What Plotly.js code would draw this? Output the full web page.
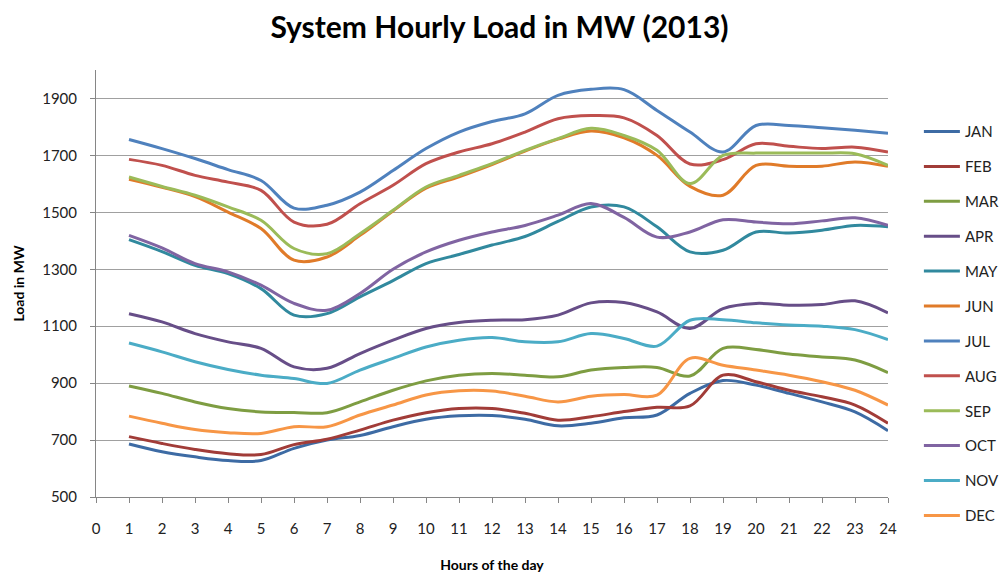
<!DOCTYPE html>
<html>
<head>
<meta charset="utf-8">
<script src="https://cdn.plot.ly/plotly-3.0.1.min.js"></script>
<style>html,body{margin:0;padding:0;background:#fff;}#chart{width:1005px;height:576px;}</style>
</head>
<body>
<div id="chart"></div>
<script>
const hours = [1,2,3,4,5,6,7,8,9,10,11,12,13,14,15,16,17,18,19,20,21,22,23,24];
const months = ["JAN","FEB","MAR","APR","MAY","JUN","JUL","AUG","SEP","OCT","NOV","DEC"];
const JAN = [686,659,641,628,628,671,700,716,747,773,785,786,773,750,759,778,788,864,909,893,864,834,799,733];
const FEB = [712,688,667,652,649,684,703,735,770,796,811,811,794,770,782,800,815,820,928,905,875,852,823,759];
const MAR = [890,864,834,811,799,797,796,834,875,908,928,934,928,922,946,955,955,925,1022,1018,1002,992,981,937];
const APR = [1144,1115,1074,1045,1022,957,952,1004,1051,1092,1113,1121,1123,1139,1182,1183,1150,1092,1162,1180,1174,1176,1189,1147];
const MAY = [1404,1362,1314,1285,1232,1139,1144,1203,1260,1320,1352,1385,1415,1468,1519,1519,1449,1361,1367,1431,1427,1437,1454,1449];
const JUN = [1616,1588,1555,1501,1443,1332,1343,1419,1505,1585,1625,1668,1715,1757,1786,1762,1700,1591,1560,1665,1662,1662,1677,1662];
const JUL = [1756,1724,1689,1650,1612,1515,1525,1571,1647,1724,1782,1819,1846,1911,1932,1931,1858,1782,1712,1805,1805,1797,1788,1778];
const AUG = [1686,1665,1630,1606,1577,1466,1458,1530,1595,1671,1712,1741,1782,1829,1840,1832,1770,1670,1685,1741,1732,1724,1729,1712];
const SEP = [1624,1591,1560,1519,1472,1373,1355,1425,1507,1589,1630,1671,1718,1759,1795,1770,1718,1601,1700,1708,1708,1708,1706,1665];
const OCT = [1419,1375,1320,1291,1244,1180,1156,1215,1300,1361,1402,1431,1454,1490,1531,1482,1413,1431,1474,1466,1460,1470,1481,1454];
const NOV = [1041,1010,975,948,928,916,899,946,987,1027,1051,1060,1045,1045,1074,1057,1030,1121,1123,1112,1104,1100,1088,1053];
const DEC = [784,759,737,726,723,747,747,788,823,858,873,872,854,834,854,860,858,987,963,946,928,905,875,823];
const series = [JAN,FEB,MAR,APR,MAY,JUN,JUL,AUG,SEP,OCT,NOV,DEC];
const colors = ["#3D6BA4","#A13C38","#7E9D42","#674E88","#31899E","#E07B29","#4F81BD","#C0504D","#9BBB59","#8064A2","#4BACC6","#F79646"];

const traces = series.map((ys, i) => ({
  x: hours, y: ys, name: months[i], type: 'scatter', mode: 'lines',
  legendgroup: 'g' + i,
  line: {color: colors[i], width: 3, shape: 'spline', smoothing: 1},
  hoverinfo: 'x+y+name'
}));

const fontFam = 'Lato, "Open Sans", sans-serif';
const layout = {
  width: 1005, height: 576,
  margin: {l: 96, r: 117, t: 70, b: 79, autoexpand: false},
  paper_bgcolor: '#fff', plot_bgcolor: '#fff',
  font: {family: fontFam, color: '#222', size: 15},
  title: {text: '<b>System Hourly Load in MW (2013)</b>', font: {family: fontFam, size: 30, color: '#000'}, x: 0.497, xanchor: 'center', y: 0.952, yanchor: 'middle'},
  xaxis: {
    range: [0, 24], tickmode: 'linear', tick0: 0, dtick: 1,
    showgrid: false, zeroline: false,
    showline: true, linecolor: '#868686', linewidth: 1,
    ticks: 'outside', ticklen: 5, tickcolor: '#868686',
    ticklabelstandoff: 13,
    tickfont: {size: 15, color: '#222'},
    title: {text: '<b>Hours of the day</b>', font: {size: 14, color: '#000'}, standoff: 24}
  },
  yaxis: {
    range: [500, 2000], tickmode: 'linear', tick0: 500, dtick: 200,
    showgrid: true, gridcolor: '#A0A0A0', gridwidth: 1, zeroline: false,
    showline: true, linecolor: '#868686', linewidth: 1,
    ticks: 'outside', ticklen: 5, tickcolor: '#868686',
    ticklabelstandoff: 10,
    tickfont: {size: 15, color: '#222'},
    title: {text: '<b>Load in MW</b>', font: {size: 14, color: '#000'}, standoff: 14}
  },
  legend: {
    x: 1.039, xanchor: 'left', y: 0.894, yanchor: 'top',
    font: {size: 15, color: '#222'},
    tracegroupgap: 12.4, traceorder: 'grouped',
    bgcolor: 'rgba(0,0,0,0)', itemwidth: 36
  },
  showlegend: true
};

Plotly.newPlot('chart', traces, layout, {displayModeBar: false, staticPlot: true});
</script>
</body>
</html>
